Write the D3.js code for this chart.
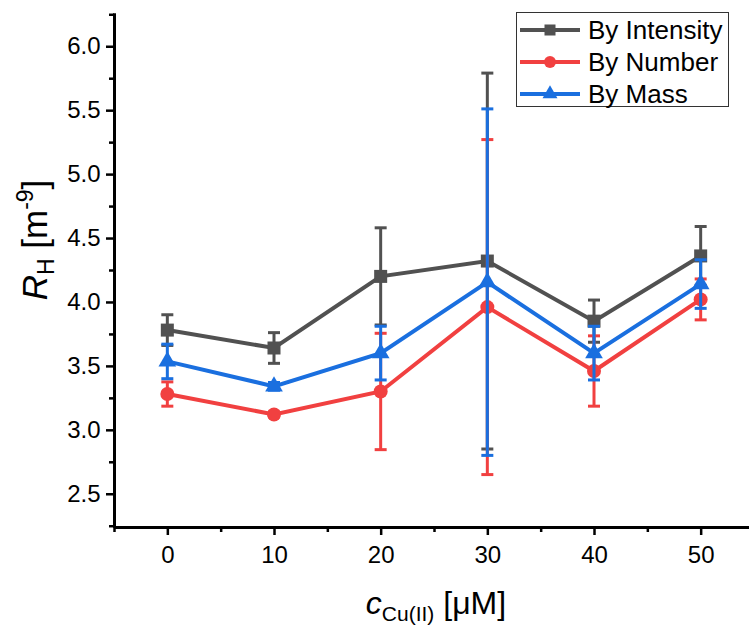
<!DOCTYPE html>
<html><head><meta charset="utf-8">
<script src="https://cdn.jsdelivr.net/npm/d3@7"></script>
<style>body{margin:0;background:#fff}svg{display:block}text{font-family:"Liberation Sans",Arial,sans-serif}</style>
</head><body>
<svg id="c" width="749" height="627"></svg>
<script>
const concentrations = [0, 10, 20, 30, 40, 50];
const seriesNames = ["By Intensity", "By Number", "By Mass"];
const intensityValues = [3.78, 3.64, 4.20, 4.32, 3.85, 4.36];
const intensityErrors = [0.12, 0.12, 0.38, 1.47, 0.165, 0.23];
const numberValues = [3.28, 3.12, 3.30, 3.96, 3.46, 4.02];
const numberErrors = [0.095, 0.02, 0.455, 1.31, 0.275, 0.16];
const massValues = [3.535, 3.34, 3.60, 4.155, 3.60, 4.14];
const massErrors = [0.135, 0.03, 0.21, 1.355, 0.21, 0.19];
const xTicks = [0, 10, 20, 30, 40, 50];
const yTicks = [2.5, 3.0, 3.5, 4.0, 4.5, 5.0, 5.5, 6.0];

const colors = ["#515151", "#F14040", "#1A6FDF"];
const markers = ["square", "circle", "triangle"];
const series = seriesNames.map((n, i) => ({
  name: n, color: colors[i], marker: markers[i],
  values: [intensityValues, numberValues, massValues][i],
  errors: [intensityErrors, numberErrors, massErrors][i]
}));

const svg = d3.select("#c");
const x = d3.scaleLinear().domain([-5, 55]).range([114, 754]);
const y = d3.scaleLinear().domain([2.24, 6.26]).range([527, 13]);

// axes
const xAxis = svg.append("g").attr("transform", "translate(0,527)")
  .call(d3.axisBottom(x).tickValues(xTicks).tickFormat(d3.format("d")).tickSize(8).tickSizeOuter(0));
const xMinor = svg.append("g").attr("transform", "translate(0,527)")
  .call(d3.axisBottom(x).tickValues([-5,5,15,25,35,45]).tickFormat("").tickSize(5).tickSizeOuter(0));
const yAxis = svg.append("g").attr("transform", "translate(114,0)")
  .call(d3.axisLeft(y).tickValues(yTicks).tickFormat(d3.format(".1f")).tickSize(8).tickSizeOuter(0));
const yMinor = svg.append("g").attr("transform", "translate(114,0)")
  .call(d3.axisLeft(y).tickValues(d3.range(2.25, 6.26, 0.5)).tickFormat("").tickSize(5).tickSizeOuter(0));
[xAxis, xMinor, yAxis, yMinor].forEach(g => {
  g.select(".domain").attr("stroke", "#000").attr("stroke-width", 3);
  g.selectAll(".tick line").attr("stroke", "#000").attr("stroke-width", 2.5);
  g.selectAll(".tick text").attr("font-size", 24).attr("fill", "#000")
    .attr("font-family", '"Liberation Sans",Arial,sans-serif');
});
xAxis.selectAll(".tick text").attr("dy", "1.05em");
yAxis.selectAll(".tick text").attr("dx", "-0.1em");

// series
function drawMarker(g, type, cx, cy, color, s) {
  if (type === "square") g.append("rect").attr("x", cx - s/2).attr("y", cy - s/2).attr("width", s).attr("height", s).attr("fill", color);
  else if (type === "circle") g.append("circle").attr("cx", cx).attr("cy", cy).attr("r", s/2 + 0.5).attr("fill", color);
  else g.append("path").attr("d", d3.symbol(d3.symbolTriangle, s * s * 0.8)()).attr("transform", `translate(${cx},${cy})`).attr("fill", color);
}
const line = d3.line().x(d => x(d[0])).y(d => y(d[1]));
series.forEach(s => {
  const g = svg.append("g");
  const pts = concentrations.map((c, i) => [c, s.values[i], s.errors[i]]);
  g.append("path").attr("d", line(pts)).attr("fill", "none").attr("stroke", s.color).attr("stroke-width", 4).attr("stroke-linejoin", "miter");
  pts.forEach(p => {
    const cx = x(p[0]), t = y(p[1] + p[2]), b = y(p[1] - p[2]);
    g.append("line").attr("x1", cx).attr("x2", cx).attr("y1", t).attr("y2", b).attr("stroke", s.color).attr("stroke-width", 3);
    [t, b].forEach(yy => g.append("line").attr("x1", cx - 6).attr("x2", cx + 6).attr("y1", yy).attr("y2", yy).attr("stroke", s.color).attr("stroke-width", 3));
  });
  pts.forEach(p => drawMarker(g, s.marker, x(p[0]), y(p[1]), s.color, 13));
});

// legend
const lg = svg.append("g");
lg.append("rect").attr("x", 516.5).attr("y", 12.5).attr("width", 212).attr("height", 94)
  .attr("fill", "#fff").attr("stroke", "#333").attr("stroke-width", 1);
series.forEach((s, i) => {
  const cy = 30 + i * 32;
  lg.append("line").attr("x1", 520).attr("x2", 580).attr("y1", cy).attr("y2", cy).attr("stroke", s.color).attr("stroke-width", 4);
  drawMarker(lg, s.marker, 550, cy, s.color, 11);
  lg.append("text").attr("x", 588).attr("y", cy + 9).attr("font-size", 26).text(s.name);
});

// axis titles
const yt = svg.append("text").attr("transform", "translate(47,240) rotate(-90)").attr("text-anchor", "middle").attr("font-size", 35);
yt.append("tspan").attr("font-style", "italic").text("R");
yt.append("tspan").attr("font-size", 23).attr("dy", 7).text("H");
yt.append("tspan").attr("dy", -7).text(" [m");
yt.append("tspan").attr("font-size", 23).attr("dy", -14).text("-9");
yt.append("tspan").attr("dy", 14).text("]");

const xt = svg.append("text").attr("x", 436).attr("y", 614).attr("text-anchor", "middle").attr("font-size", 32);
xt.append("tspan").attr("font-style", "italic").text("c");
xt.append("tspan").attr("font-size", 21).attr("dy", 7).text("Cu(II)");
xt.append("tspan").attr("dy", -7).text(" [μM]");
</script>
</body></html>
